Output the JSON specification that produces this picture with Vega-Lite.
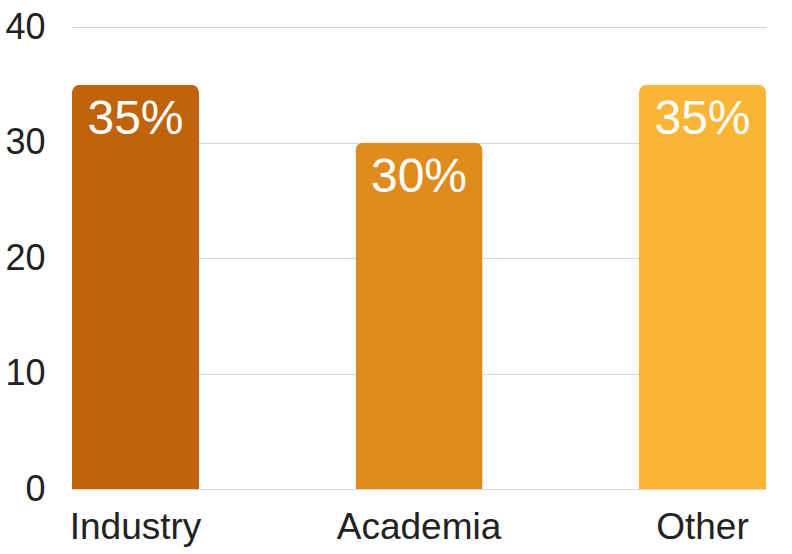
{
  "$schema": "https://vega.github.io/schema/vega-lite/v6.json",
  "width": 694,
  "height": 462,
  "autosize": {"type": "none"},
  "padding": {"left": 72, "top": 27, "right": 26, "bottom": 65},
  "background": "white",
  "config": {"view": {"stroke": null}, "font": "Liberation Sans"},
  "data": {"values": [
    {"category": "Industry", "value": 35, "label": "35%"},
    {"category": "Academia", "value": 30, "label": "30%"},
    {"category": "Other", "value": 35, "label": "35%"}
  ]},
  "encoding": {
    "x": {"field": "category", "type": "nominal", "sort": null,
      "scale": {"paddingInner": 0.552, "paddingOuter": 0},
      "axis": {"title": null, "labelAngle": 0, "labelFontSize": 37, "labelColor": "#222222", "labelPadding": 20, "domain": false, "ticks": false}},
    "y": {"field": "value", "type": "quantitative",
      "scale": {"domain": [0, 40]},
      "axis": {"title": null, "values": [0, 10, 20, 30, 40], "labelFontSize": 36, "labelColor": "#222222", "labelPadding": 27, "domain": false, "ticks": false, "gridColor": "#D6D6D6", "gridWidth": 1.2}}
  },
  "layer": [
    {"mark": {"type": "bar", "cornerRadiusTopLeft": 8, "cornerRadiusTopRight": 8},
     "encoding": {"color": {"field": "category", "type": "nominal", "sort": null, "legend": null,
       "scale": {"domain": ["Industry", "Academia", "Other"], "range": ["#BF630D", "#DF8C1F", "#FBB536"]}}}},
    {"mark": {"type": "text", "color": "white", "fontSize": 48, "baseline": "middle", "dy": 35},
     "encoding": {"text": {"field": "label"}}}
  ]
}
